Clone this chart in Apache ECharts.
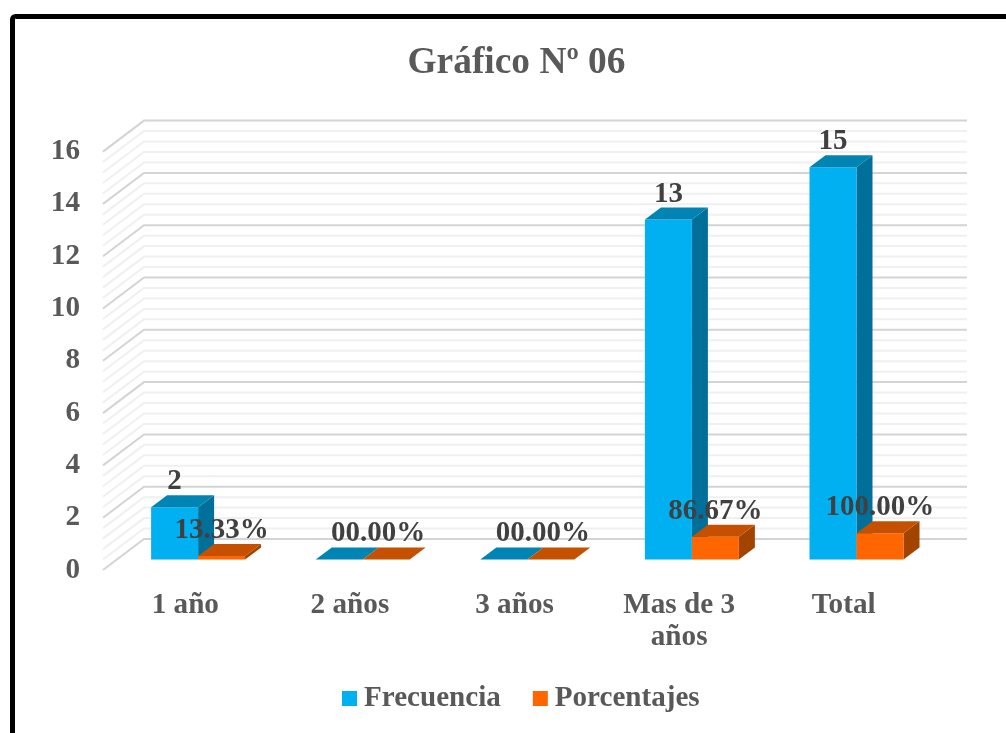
<!DOCTYPE html>
<html>
<head>
<meta charset="utf-8">
<style>html,body{margin:0;padding:0;background:#fff;overflow:hidden}#c{width:1006px;height:733px}</style>
<script src="https://cdn.jsdelivr.net/npm/echarts@6/dist/echarts.min.js"></script>
</head>
<body>
<div id="c"></div>
<script>
var categories = ["1 año", "2 años", "3 años", "Mas de 3\naños", "Total"];
var frecuencia = [2, 0, 0, 13, 15];
var porcentajes = [0.1333, 0, 0, 0.8667, 1];
var yTicks = [0, 2, 4, 6, 8, 10, 12, 14, 16];
var minorPerMajor = 5;

var FONT = '"Liberation Serif", "Times New Roman", serif';
var TICK = '#595959', LABEL = '#404040';

// wall depth of the pseudo-3D box, bars' plane inside it and bar depth
var WALL = [41, -31], PLANE = [12.8, -10.5], DEPTH = [16, -12];
var BAR_RATIO = 0.2855;

var gridValues = [];
for (var t = 0; t < yTicks.length - 1; t++) {
  for (var m = 0; m < minorPerMajor; m++) {
    gridValues.push([0, yTicks[t] + (yTicks[t + 1] - yTicks[t]) * m / minorPerMajor, m === 0 ? 1 : 0]);
  }
}
gridValues.push([0, yTicks[yTicks.length - 1], 1]);
gridValues.sort(function (a, b) { return a[2] - b[2]; });

function renderGrid(params, api) {
  var cs = params.coordSys;
  var y = api.coord([0, api.value(1)])[1];
  var major = api.value(2) === 1;
  return {
    type: 'polyline', silent: true,
    shape: { points: [[cs.x, y], [cs.x + WALL[0], y + WALL[1]], [cs.x + cs.width + WALL[0], y + WALL[1]]] },
    style: { fill: null, stroke: major ? '#D4D4D4' : '#F0F0F0', lineWidth: 2 }
  };
}

function barRenderer(side, front, top, dark, fmt, zeroShift) {
  return function (params, api) {
    var i = api.value(0), v = api.value(1);
    var band = api.size([1, 0])[0], w = band * BAR_RATIO;
    var p0 = api.coord([i, 0]), p1 = api.coord([i, v]);
    var x0 = p0[0] + PLANE[0] + (side < 0 ? -w : 0), x1 = x0 + w;
    var yb = p0[1] + PLANE[1], yt = p1[1] + PLANE[1];
    var dx = DEPTH[0], dy = DEPTH[1];
    var kids = [];
    if (v > 0) {
      kids.push({ type: 'polygon', shape: { points: [[x1, yt], [x1 + dx, yt + dy], [x1 + dx, yb + dy], [x1, yb]] }, style: { fill: dark } });
      kids.push({ type: 'rect', shape: { x: x0, y: yt, width: w, height: yb - yt }, style: { fill: front } });
    }
    kids.push({ type: 'polygon', shape: { points: [[x0, yt], [x0 + dx, yt + dy], [x1 + dx, yt + dy], [x1, yt]] }, style: { fill: top } });
    kids.push({
      type: 'text', z2: 50,
      x: x0 + w / 2 + (v === 0 ? zeroShift : 0), y: yt - 25.5,
      style: { text: fmt(v), textAlign: 'center', textVerticalAlign: 'middle', fill: LABEL, font: 'bold 29px ' + FONT }
    });
    return { type: 'group', silent: true, children: kids };
  };
}

function fmtCount(v) { return v === 0 ? '' : String(v); }
function fmtPct(v) {
  var s = (v * 100).toFixed(2);
  return (s.length < 5 ? '0' + s : s) + '%';
}

var chart = echarts.init(document.getElementById('c'), null, { renderer: 'canvas' });
chart.setOption({
  animation: false,
  backgroundColor: '#fff',
  title: {
    text: 'Gráfico Nº 06', left: 511.5, top: 40, textAlign: 'center',
    textStyle: { fontFamily: FONT, fontWeight: 'bold', fontSize: 37.4, color: TICK }
  },
  graphic: [{
    type: 'rect', z: -1, silent: true,
    shape: { x: 12.5, y: 16.5, width: 1100, height: 1000, r: 3 },
    style: { fill: null, stroke: '#000', lineWidth: 5 }
  }],
  legend: {
    left: 337, top: 679, itemWidth: 15, itemHeight: 15, itemGap: 32, icon: 'rect', selectedMode: false,
    data: ['Frecuencia', 'Porcentajes'],
    textStyle: { fontFamily: FONT, fontWeight: 'bold', fontSize: 29.1, color: TICK, padding: [5, 0, 0, 2] }
  },
  grid: { left: 103, right: 80, top: 151.6, bottom: 163 },
  xAxis: {
    type: 'category', data: categories,
    axisLine: { show: false }, axisTick: { show: false }, splitLine: { show: false },
    axisLabel: { interval: 0, margin: 19, lineHeight: 32, fontFamily: FONT, fontWeight: 'bold', fontSize: 29.2, color: TICK }
  },
  yAxis: {
    type: 'value', min: 0, max: 16, interval: 2,
    axisLine: { show: false }, axisTick: { show: false }, splitLine: { show: false },
    axisLabel: { margin: 23, fontFamily: FONT, fontWeight: 'bold', fontSize: 29.2, color: TICK, padding: [0, 0, 0, 0] }
  },
  series: [
    { type: 'custom', name: 'grid', z: 1, silent: true, renderItem: renderGrid, data: gridValues },
    {
      type: 'custom', name: 'Frecuencia', z: 2, itemStyle: { color: '#00B0F0' },
      renderItem: barRenderer(-1, '#00B0F0', '#0084B4', '#006F99', fmtCount, 0),
      data: frecuencia.map(function (v, i) { return [i, v]; })
    },
    {
      type: 'custom', name: 'Porcentajes', z: 3, itemStyle: { color: '#FF6600' },
      renderItem: barRenderer(1, '#FF6600', '#C55100', '#A34300', fmtPct, -8),
      data: porcentajes.map(function (v, i) { return [i, v]; })
    }
  ]
});
</script>
</body>
</html>
